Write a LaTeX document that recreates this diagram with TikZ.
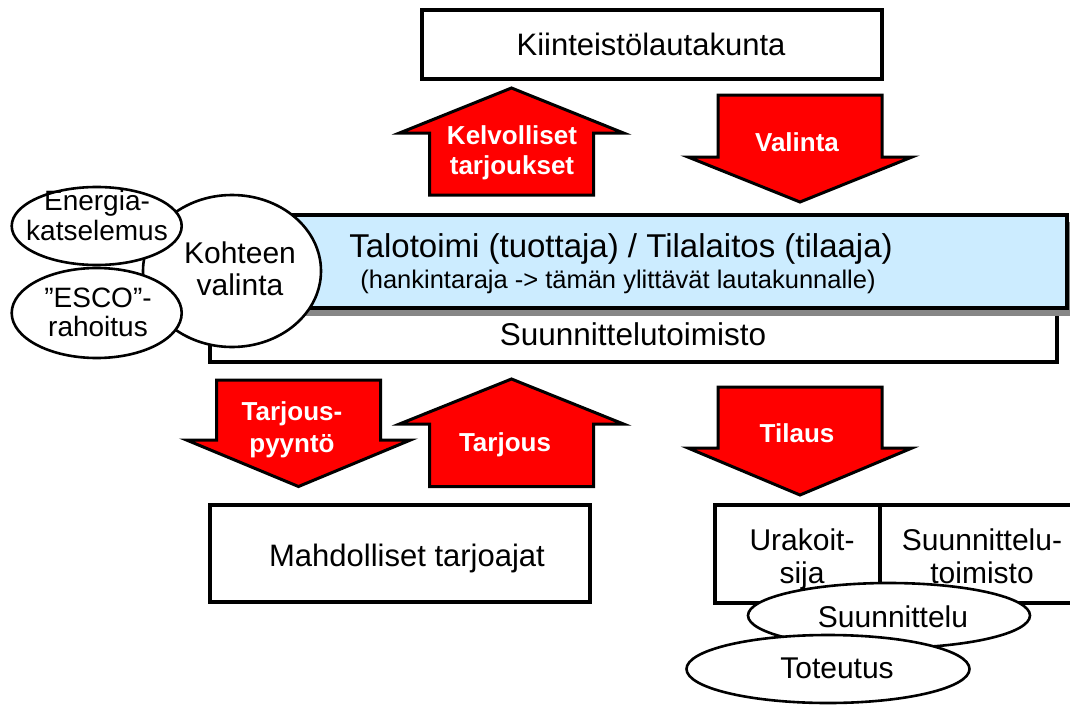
\documentclass[tikz,border=0pt]{standalone}
\usepackage{fontspec}
\setmainfont{Liberation Sans}
\usetikzlibrary{shapes.geometric}
\definecolor{arrowred}{RGB}{255,0,0}
\definecolor{paleblue}{RGB}{204,236,255}
\definecolor{shadowgrey}{RGB}{135,135,135}
% block arrow: centre x, tip y, head-base y, tail y
\newcommand{\blockarrowpath}[4]{%
  \draw[blockarrow] (#1-82,#4) -- (#1-82,#3) -- (#1-112,#3) -- (#1,#2)
    -- (#1+112,#3) -- (#1+82,#3) -- (#1+82,#4) -- cycle;}
\begin{document}
\begin{tikzpicture}[x=1pt,y=-1pt,
  box/.style={draw=black, line width=4pt, fill=white, inner sep=0pt},
  oval/.style={ellipse, draw=black, line width=2.6pt, fill=white, inner sep=0pt},
  lbl/.style={align=center, inner sep=0pt, text depth=0pt, font=\fontsize{30}{33}\selectfont},
  arrowlbl/.style={align=center, inner sep=0pt, text depth=0pt, text=white,
    font=\bfseries\fontsize{26}{31}\selectfont},
  blockarrow/.style={draw=black, line width=3pt, fill=arrowred, line join=miter}]
\useasboundingbox (0,0) rectangle (1070,704);
\clip (0,0) rectangle (1070,704);

% top box
\node[box, minimum width=460pt, minimum height=69pt] (kiint) at (652,44.5) {};
\node[lbl, font=\fontsize{31}{33}\selectfont] (kiinttxt) at (651,44) {Kiinteistölautakunta};

% arrows top
\blockarrowpath{511.5}{88}{133}{195}
\node[arrowlbl, font=\bfseries\fontsize{26}{30}\selectfont] (kelv) at (512,150) {Kelvolliset\\tarjoukset};
\blockarrowpath{800}{202}{157}{95}
\node[arrowlbl] (vali) at (797,142) {Valinta};

% Suunnittelutoimisto (below blue box)
\node[box, line width=3.5pt, minimum width=847pt, minimum height=54pt] (suun) at (633.5,335) {};
\node[lbl, font=\fontsize{31.5}{33}\selectfont] (suuntxt) at (633,334.5) {Suunnittelutoimisto};

% blue box with shadow
\fill[shadowgrey] (213,222) rectangle (1070,316);
\node[box, fill=paleblue, minimum width=857pt, minimum height=93pt] (talo) at (638.5,261.5) {};
\node[lbl, font=\fontsize{33}{33}\selectfont] (talo1) at (621,245.5) {Talotoimi (tuottaja) / Tilalaitos (tilaaja)};
\node[lbl, font=\fontsize{25.5}{30}\selectfont] (talo2) at (618,279) {(hankintaraja -> tämän ylittävät lautakunnalle)};

% left ellipses
\node[oval, minimum width=178pt, minimum height=152pt] (koht) at (232,271) {};
\node[lbl, font=\fontsize{30}{32}\selectfont] (kohttxt) at (240,269) {Kohteen\\valinta};
\node[oval, minimum width=170pt, minimum height=78pt] (ener) at (96.7,226) {};
\node[lbl, font=\fontsize{28}{30}\selectfont] (enertxt) at (97,215) {Energia-\\katselemus};
\node[oval, minimum width=170pt, minimum height=90pt] (esco) at (96.7,313) {};
\node[lbl, font=\fontsize{28}{29}\selectfont] (escotxt) at (98,312.5) {”ESCO”-\\rahoitus};

% lower arrows
\blockarrowpath{298.5}{486.5}{440}{380}
\node[arrowlbl, font=\bfseries\fontsize{26}{31.5}\selectfont] (pyyn) at (292,427) {Tarjous-\\pyyntö};
\blockarrowpath{511.5}{379}{424}{486.5}
\node[arrowlbl] (tarj) at (505,442) {Tarjous};
\blockarrowpath{800}{495}{448}{387}
\node[arrowlbl] (tila) at (797,433) {Tilaus};

% bottom left box
\node[box, minimum width=380pt, minimum height=97pt] (mahd) at (400,553.5) {};
\node[lbl, font=\fontsize{31}{33}\selectfont] (mahdtxt) at (407,555) {Mahdolliset tarjoajat};

% bottom right boxes
\node[box, minimum width=165pt, minimum height=98pt] (urak) at (797.5,554) {};
\node[box, minimum width=195pt, minimum height=98pt] (suun2) at (977.5,554) {};
\node[lbl] (uraktxt) at (802,556.5) {Urakoit-\\sija};
\node[lbl] (suun2txt) at (982,556.5) {Suunnittelu-\\toimisto};

% bottom ellipses
\node[oval, minimum width=282pt, minimum height=65pt] (suel) at (889,615.5) {};
\node[lbl] (sueltxt) at (893,617) {Suunnittelu};
\node[oval, minimum width=283pt, minimum height=68pt] (tote) at (828,669) {};
\node[lbl] (totetxt) at (837,668) {Toteutus};
\end{tikzpicture}
\end{document}
